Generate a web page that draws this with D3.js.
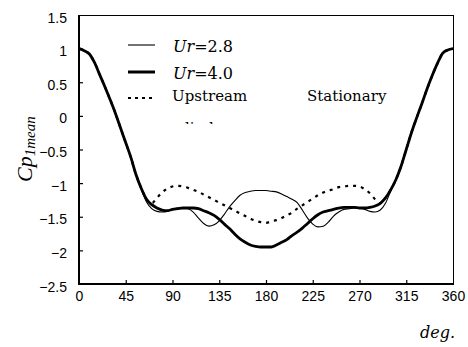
<!DOCTYPE html>
<html>
<head>
<meta charset="utf-8">
<script src="https://cdn.jsdelivr.net/npm/d3@7"></script>
<style>
  html, body { margin: 0; padding: 0; background: #fff; }
  svg { display: block; }
</style>
</head>
<body>
<svg id="chart" width="468" height="347"></svg>
<script>
// Mean pressure coefficient around the cylinder, sampled every 5 degrees
const angles = d3.range(0, 361, 5);

const cpUr28 = [
  1.00, 0.97, 0.92, 0.79, 0.61, 0.43, 0.24, 0.04, -0.18, -0.40,
  -0.62, -0.88, -1.10, -1.28, -1.38, -1.42, -1.43, -1.42, -1.39, -1.37,
  -1.37, -1.38, -1.43, -1.52, -1.60, -1.64, -1.62, -1.56, -1.46, -1.35,
  -1.26, -1.18, -1.14, -1.12, -1.11, -1.11, -1.11, -1.12, -1.13, -1.16,
  -1.20, -1.24, -1.29, -1.40, -1.52, -1.61, -1.65, -1.64, -1.58, -1.49,
  -1.43, -1.39, -1.38, -1.37, -1.37, -1.39, -1.42, -1.43, -1.40, -1.30,
  -1.12, -0.95, -0.75, -0.50, -0.25, -0.03, 0.18, 0.40, 0.60, 0.78,
  0.93, 0.98, 1.00
];

const cpUr40 = [
  1.00, 0.97, 0.92, 0.79, 0.61, 0.43, 0.24, 0.04, -0.18, -0.40,
  -0.62, -0.88, -1.08, -1.24, -1.32, -1.37, -1.40, -1.41, -1.39, -1.38,
  -1.37, -1.37, -1.37, -1.38, -1.41, -1.44, -1.48, -1.54, -1.61, -1.68,
  -1.76, -1.83, -1.88, -1.92, -1.94, -1.95, -1.95, -1.95, -1.92, -1.88,
  -1.84, -1.78, -1.73, -1.67, -1.60, -1.53, -1.47, -1.43, -1.41, -1.39,
  -1.37, -1.36, -1.36, -1.36, -1.37, -1.37, -1.36, -1.34, -1.30, -1.22,
  -1.10, -0.95, -0.75, -0.50, -0.25, -0.03, 0.18, 0.40, 0.60, 0.78,
  0.93, 0.98, 1.00
];

const cpUpstream = [
  1.00, 0.97, 0.92, 0.79, 0.61, 0.43, 0.24, 0.04, -0.18, -0.40,
  -0.62, -0.88, -1.08, -1.24, -1.30, -1.22, -1.14, -1.08, -1.05, -1.04,
  -1.05, -1.07, -1.10, -1.13, -1.17, -1.21, -1.25, -1.29, -1.33, -1.37,
  -1.41, -1.45, -1.49, -1.53, -1.56, -1.58, -1.59, -1.57, -1.55, -1.52,
  -1.48, -1.44, -1.38, -1.33, -1.28, -1.23, -1.18, -1.14, -1.11, -1.09,
  -1.06, -1.05, -1.04, -1.04, -1.05, -1.09, -1.15, -1.24, -1.30, -1.22,
  -1.10, -0.95, -0.75, -0.50, -0.25, -0.03, 0.18, 0.40, 0.60, 0.78,
  0.93, 0.98, 1.00
];

const xTicks = [0, 45, 90, 135, 180, 225, 270, 315, 360];
const yTicks = [1.5, 1, 0.5, 0, -0.5, -1, -1.5, -2, -2.5];

const svg = d3.select("#chart");
const plot = { left: 79, right: 453, top: 15, bottom: 284 };

const x = d3.scaleLinear().domain([0, 360]).range([plot.left, plot.right]);
const y = d3.scaleLinear().domain([-2.5, 1.5]).range([plot.bottom, plot.top]);

const tickFont = "'Liberation Sans', Arial, sans-serif";
const serif = "'DejaVu Serif', serif";
const fmt = v => String(v).replace("-", "\u2212");

// frame: heavier left/bottom axes, light top/right border
svg.append("line").attr("x1", plot.left).attr("x2", plot.right)
  .attr("y1", plot.top + 0.5).attr("y2", plot.top + 0.5)
  .attr("stroke", "#000").attr("stroke-width", 1);
svg.append("line").attr("x1", plot.right + 0.5).attr("x2", plot.right + 0.5)
  .attr("y1", plot.top).attr("y2", plot.bottom)
  .attr("stroke", "#000").attr("stroke-width", 1);

// x axis with inward ticks
const xAxis = d3.axisBottom(x).tickValues(xTicks).tickSize(-4).tickPadding(14)
  .tickFormat(d => d);
const gx = svg.append("g").attr("transform", `translate(0,${plot.bottom})`).call(xAxis);
gx.select(".domain").attr("stroke-width", 2).attr("d", `M${plot.left - 1},0H${plot.right + 1}`);
gx.selectAll(".tick line").attr("stroke-width", 1.2)
  .filter(d => d === 0 || d === 360).remove();
gx.selectAll(".tick text").attr("font-family", tickFont).attr("font-size", 14)
  .attr("fill", "#000").attr("dy", "0.2em");

// y axis with inward ticks
const yAxis = d3.axisLeft(y).tickValues(yTicks).tickSize(-4).tickPadding(12)
  .tickFormat(fmt);
const gy = svg.append("g").attr("transform", `translate(${plot.left},0)`).call(yAxis);
gy.select(".domain").attr("stroke-width", 2).attr("d", `M0,${plot.top}V${plot.bottom + 1}`);
gy.selectAll(".tick line").attr("stroke-width", 1.2)
  .filter(d => d === 1.5 || d === -2.5).remove();
gy.selectAll(".tick text").attr("font-family", tickFont).attr("font-size", 14)
  .attr("fill", "#000").attr("dy", "0.5em");

// curves
svg.append("clipPath").attr("id", "plotClip").append("rect")
  .attr("x", plot.left).attr("y", plot.top)
  .attr("width", plot.right - plot.left).attr("height", plot.bottom - plot.top);

const line = d3.line()
  .x((d, i) => x(angles[i]))
  .y(d => y(d))
  .curve(d3.curveMonotoneX);

const curves = svg.append("g").attr("clip-path", "url(#plotClip)").attr("fill", "none");
curves.append("path").datum(cpUpstream).attr("d", line)
  .attr("stroke", "#000").attr("stroke-width", 2.2).attr("stroke-dasharray", "3,5");
curves.append("path").datum(cpUr28).attr("d", line)
  .attr("stroke", "#000").attr("stroke-width", 1.1);
curves.append("path").datum(cpUr40).attr("d", line)
  .attr("stroke", "#000").attr("stroke-width", 2.8);

// legend
const legend = svg.append("g");
const addSample = (yy, w, dash) => legend.append("line")
  .attr("x1", 128).attr("x2", 155).attr("y1", yy).attr("y2", yy)
  .attr("stroke", "#000").attr("stroke-width", w)
  .attr("stroke-dasharray", dash);
addSample(45, 1.1, null);
addSample(72, 3, null);
addSample(98, 2.2, "3,4");

const urLabel = (yy, val) => {
  const t = legend.append("text").attr("x", 173).attr("y", yy)
    .attr("font-family", serif).attr("font-size", 16);
  t.append("tspan").attr("font-style", "italic").text("Ur");
  t.append("tspan").text("=" + val);
};
urLabel(52, "2.8");
urLabel(79, "4.0");

legend.append("text").attr("x", 172).attr("y", 101)
  .attr("font-family", serif).attr("font-size", 15).text("Upstream");
legend.append("text").attr("x", 307).attr("y", 101)
  .attr("font-family", serif).attr("font-size", 15).text("Stationary");

// second line of the legend entry, cut off by the legend box
svg.append("clipPath").attr("id", "legendClip").append("rect")
  .attr("x", 120).attr("y", 60).attr("width", 300).attr("height", 64);
legend.append("text").attr("x", 168).attr("y", 133)
  .attr("clip-path", "url(#legendClip)")
  .attr("font-family", serif).attr("font-size", 15).text("cylinder");

// axis titles
const yTitle = svg.append("text")
  .attr("transform", "translate(32,182) rotate(-90)")
  .attr("font-family", "'Liberation Serif', serif").attr("font-style", "italic");
yTitle.append("tspan").attr("font-size", 22).text("Cp");
yTitle.append("tspan").attr("font-size", 15).attr("dy", 3).text("1mean");

svg.append("text").attr("x", 455).attr("y", 338).attr("text-anchor", "end")
  .attr("font-family", serif).attr("font-style", "italic").attr("font-size", 16)
  .text("deg.");
</script>
</body>
</html>
